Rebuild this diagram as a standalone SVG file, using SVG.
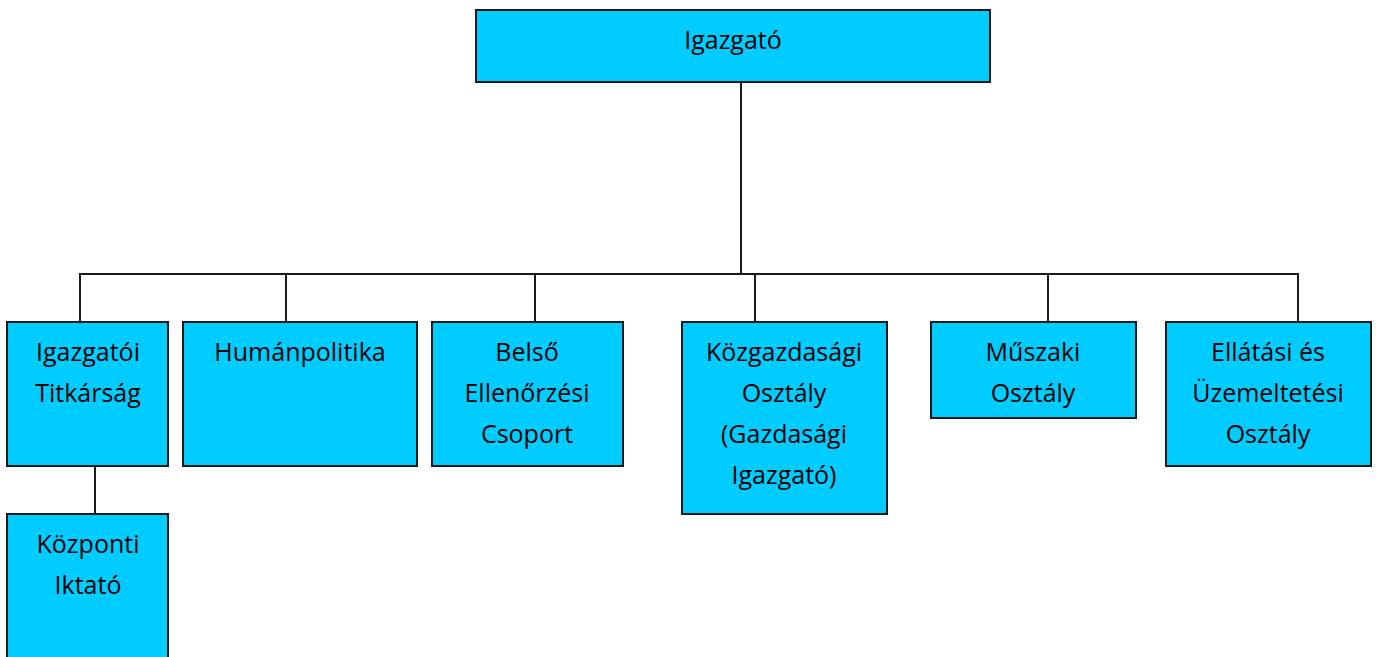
<svg xmlns="http://www.w3.org/2000/svg" width="1380" height="657" viewBox="0 0 1380 657">
<style>
.box{fill:#00CCFF;stroke:#1a1a1a;stroke-width:2}
.lbl{font-family:"Open Sans","Liberation Sans",sans-serif;font-size:25px;fill:#000;text-anchor:middle}
.con{stroke:#1a1a1a;stroke-width:2;fill:none}
</style>
<rect width="1380" height="657" fill="#fff"/>
<g id="connectors">
<line class="con" x1="741" y1="82" x2="741" y2="274"/>
<line class="con" x1="79" y1="274" x2="1299" y2="274"/>
<line class="con" x1="80" y1="274" x2="80" y2="322"/>
<line class="con" x1="286" y1="274" x2="286" y2="322"/>
<line class="con" x1="535" y1="274" x2="535" y2="322"/>
<line class="con" x1="755" y1="274" x2="755" y2="322"/>
<line class="con" x1="1048" y1="274" x2="1048" y2="322"/>
<line class="con" x1="1298" y1="274" x2="1298" y2="322"/>
<line class="con" x1="95" y1="466" x2="95" y2="514"/>
</g>
<g id="igazgato">
<rect class="box" x="476" y="10" width="514" height="72"/>
<text class="lbl" x="733" y="49">Igazgató</text>
</g>
<g id="titkarsag">
<rect class="box" x="7" y="322" width="161" height="144"/>
<text class="lbl" x="88" y="361">Igazgatói</text>
<text class="lbl" x="88" y="402">Titkárság</text>
</g>
<g id="humanpolitika">
<rect class="box" x="183" y="322" width="234" height="144"/>
<text class="lbl" x="300" y="361">Humánpolitika</text>
</g>
<g id="belso">
<rect class="box" x="432" y="322" width="191" height="144"/>
<text class="lbl" x="527" y="361">Belső</text>
<text class="lbl" x="527" y="402">Ellenőrzési</text>
<text class="lbl" x="527" y="443">Csoport</text>
</g>
<g id="kozgazdasagi">
<rect class="box" x="682" y="322" width="205" height="192"/>
<text class="lbl" x="784" y="361">Közgazdasági</text>
<text class="lbl" x="784" y="402">Osztály</text>
<text class="lbl" x="784" y="443">(Gazdasági</text>
<text class="lbl" x="784" y="484">Igazgató)</text>
</g>
<g id="muszaki">
<rect class="box" x="931" y="322" width="205" height="96"/>
<text class="lbl" x="1033" y="361">Műszaki</text>
<text class="lbl" x="1033" y="402">Osztály</text>
</g>
<g id="ellatasi">
<rect class="box" x="1166" y="322" width="205" height="144"/>
<text class="lbl" x="1268" y="361">Ellátási és</text>
<text class="lbl" x="1268" y="402">Üzemeltetési</text>
<text class="lbl" x="1268" y="443">Osztály</text>
</g>
<g id="kozponti">
<rect class="box" x="7" y="514" width="161" height="160"/>
<text class="lbl" x="88" y="553">Központi</text>
<text class="lbl" x="88" y="594">Iktató</text>
</g>
</svg>
